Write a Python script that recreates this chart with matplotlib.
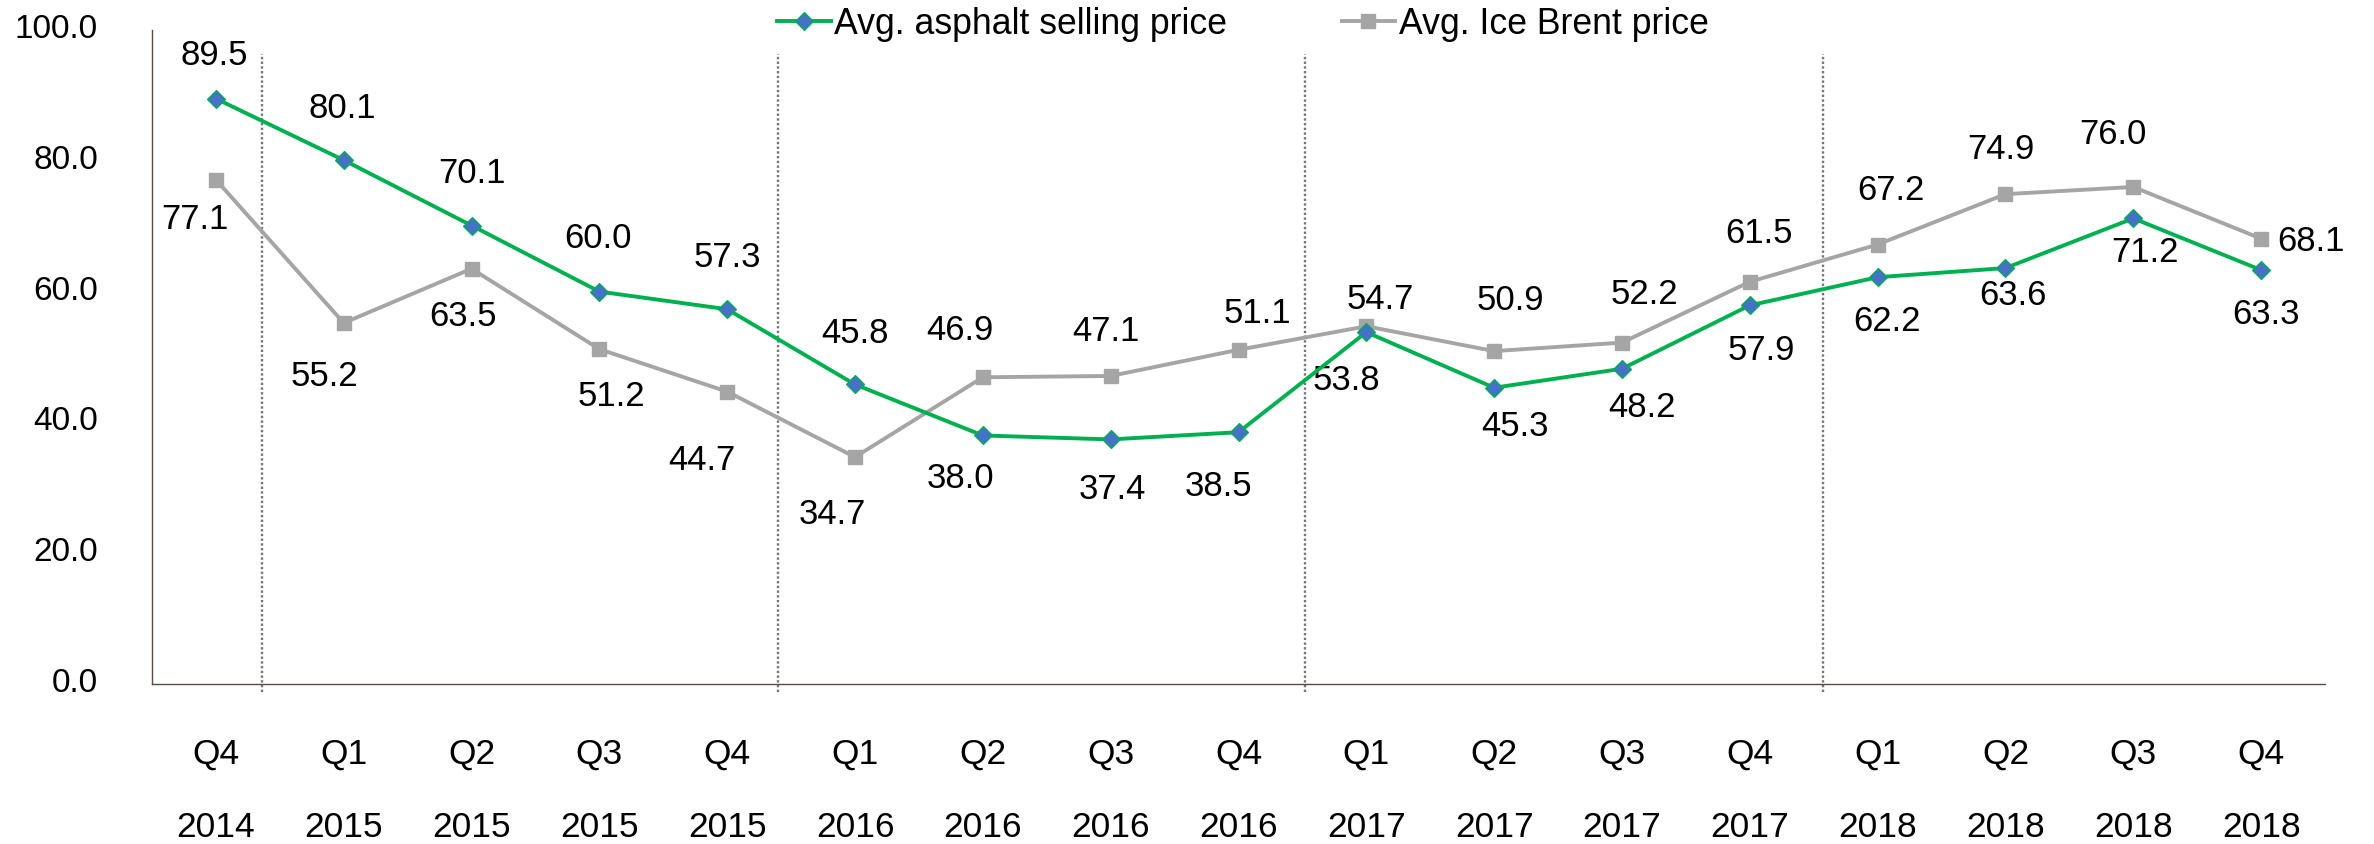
import matplotlib.pyplot as plt
from matplotlib.transforms import ScaledTranslation

plt.rcParams['font.family'] = ['Liberation Sans', 'DejaVu Sans']

quarters = ["Q4", "Q1", "Q2", "Q3", "Q4", "Q1", "Q2", "Q3", "Q4",
            "Q1", "Q2", "Q3", "Q4", "Q1", "Q2", "Q3", "Q4"]
years = ["2014", "2015", "2015", "2015", "2015", "2016", "2016", "2016", "2016",
         "2017", "2017", "2017", "2017", "2018", "2018", "2018", "2018"]

asphalt_price = [89.5, 80.1, 70.1, 60.0, 57.3, 45.8, 38.0, 37.4, 38.5,
                 53.8, 45.3, 48.2, 57.9, 62.2, 63.6, 71.2, 63.3]
brent_price = [77.1, 55.2, 63.5, 51.2, 44.7, 34.7, 46.9, 47.1, 51.1,
               54.7, 50.9, 52.2, 61.5, 67.2, 74.9, 76.0, 68.1]

# label placement, pixel offsets from each marker (image y goes down)
asphalt_label_off = [(-2, -47), (-1, -56), (0, -56), (-1, -57), (0, -56), (0, -55),
                     (-22, 39), (2, 46), (-20, 50), (-20, 44), (21, 35), (20, 35),
                     (11, 41), (9, 40), (7, 23), (12, 30), (5, 40)]
brent_label_off = [(-21, 36), (-19, 50), (-9, 44), (12, 43), (-25, 65), (-23, 53),
                   (-23, -51), (-5, -48), (19, -40), (14, -31), (16, -55), (22, -52),
                   (9, -52), (13, -58), (-5, -49), (-20, -56), (50, -1)]

# dotted separators between years (slightly off the exact boundaries, as drawn)
year_dividers = [0.36, 4.40, 8.52, 12.57]

GREEN = "#00B050"
BLUE = "#4472C4"
GREY = "#A5A5A5"
FS = 25

fig = plt.figure(figsize=(23.74, 8.45), dpi=100)
ax = fig.add_axes([152 / 2374, 1 - 685 / 845, (2325 - 152) / 2374, (685 - 31) / 845])

x = list(range(len(quarters)))
l1, = ax.plot(x, asphalt_price, color=GREEN, lw=2.8, marker="D", markersize=9,
              markerfacecolor=BLUE, markeredgecolor=GREEN, markeredgewidth=0.9,
              label="Avg. asphalt selling price", zorder=4)
l2, = ax.plot(x, brent_price, color=GREY, lw=2.8, marker="s", markersize=10.5,
              markerfacecolor=GREY, markeredgecolor=GREY,
              label="Avg. Ice Brent price", zorder=3)

for xi, v, (dx, dy) in zip(x, asphalt_price, asphalt_label_off):
    ax.annotate(f"{v:.1f}", (xi, v), xytext=(dx, -dy - 3), textcoords="offset pixels",
                ha="center", va="center", fontsize=FS, color="black")
for xi, v, (dx, dy) in zip(x, brent_price, brent_label_off):
    ax.annotate(f"{v:.1f}", (xi, v), xytext=(dx, -dy - 3), textcoords="offset pixels",
                ha="center", va="center", fontsize=FS, color="black")

ax.vlines(year_dividers, -1.2, 96.4, colors="#767676", linestyles=(0, (1, 1)),
          linewidth=1.7, clip_on=False, zorder=2)

ax.set_xlim(-0.5, len(quarters) - 0.5)
ax.set_ylim(0, 100)
ax.set_yticks(range(0, 101, 20))
ax.set_yticklabels([f"{t:.1f}" for t in range(0, 101, 20)], fontsize=24)
ax.set_xticks(x)
ax.set_xticklabels([f"{q}\n{y}" for q, y in zip(quarters, years)], fontsize=25.5,
                   linespacing=2.55)
ax.tick_params(axis="y", length=0, pad=39)
ax.tick_params(axis="x", length=0, pad=38)
shift = ScaledTranslation(0, 5 / 100, fig.dpi_scale_trans)
for lab in ax.get_yticklabels():
    lab.set_transform(lab.get_transform() + shift)

for side in ["top", "right"]:
    ax.spines[side].set_visible(False)
for side in ["left", "bottom"]:
    ax.spines[side].set_color("#594A46")
    ax.spines[side].set_linewidth(1.0)

fig.legend(handles=[l1, l2], loc="center", bbox_to_anchor=(1243 / 2374, 1 - 25 / 845),
           ncol=2, frameon=False, fontsize=25.7, handlelength=1.5, handletextpad=0.1,
           columnspacing=3.2)

fig.savefig("out.png", dpi=100, facecolor="white")
